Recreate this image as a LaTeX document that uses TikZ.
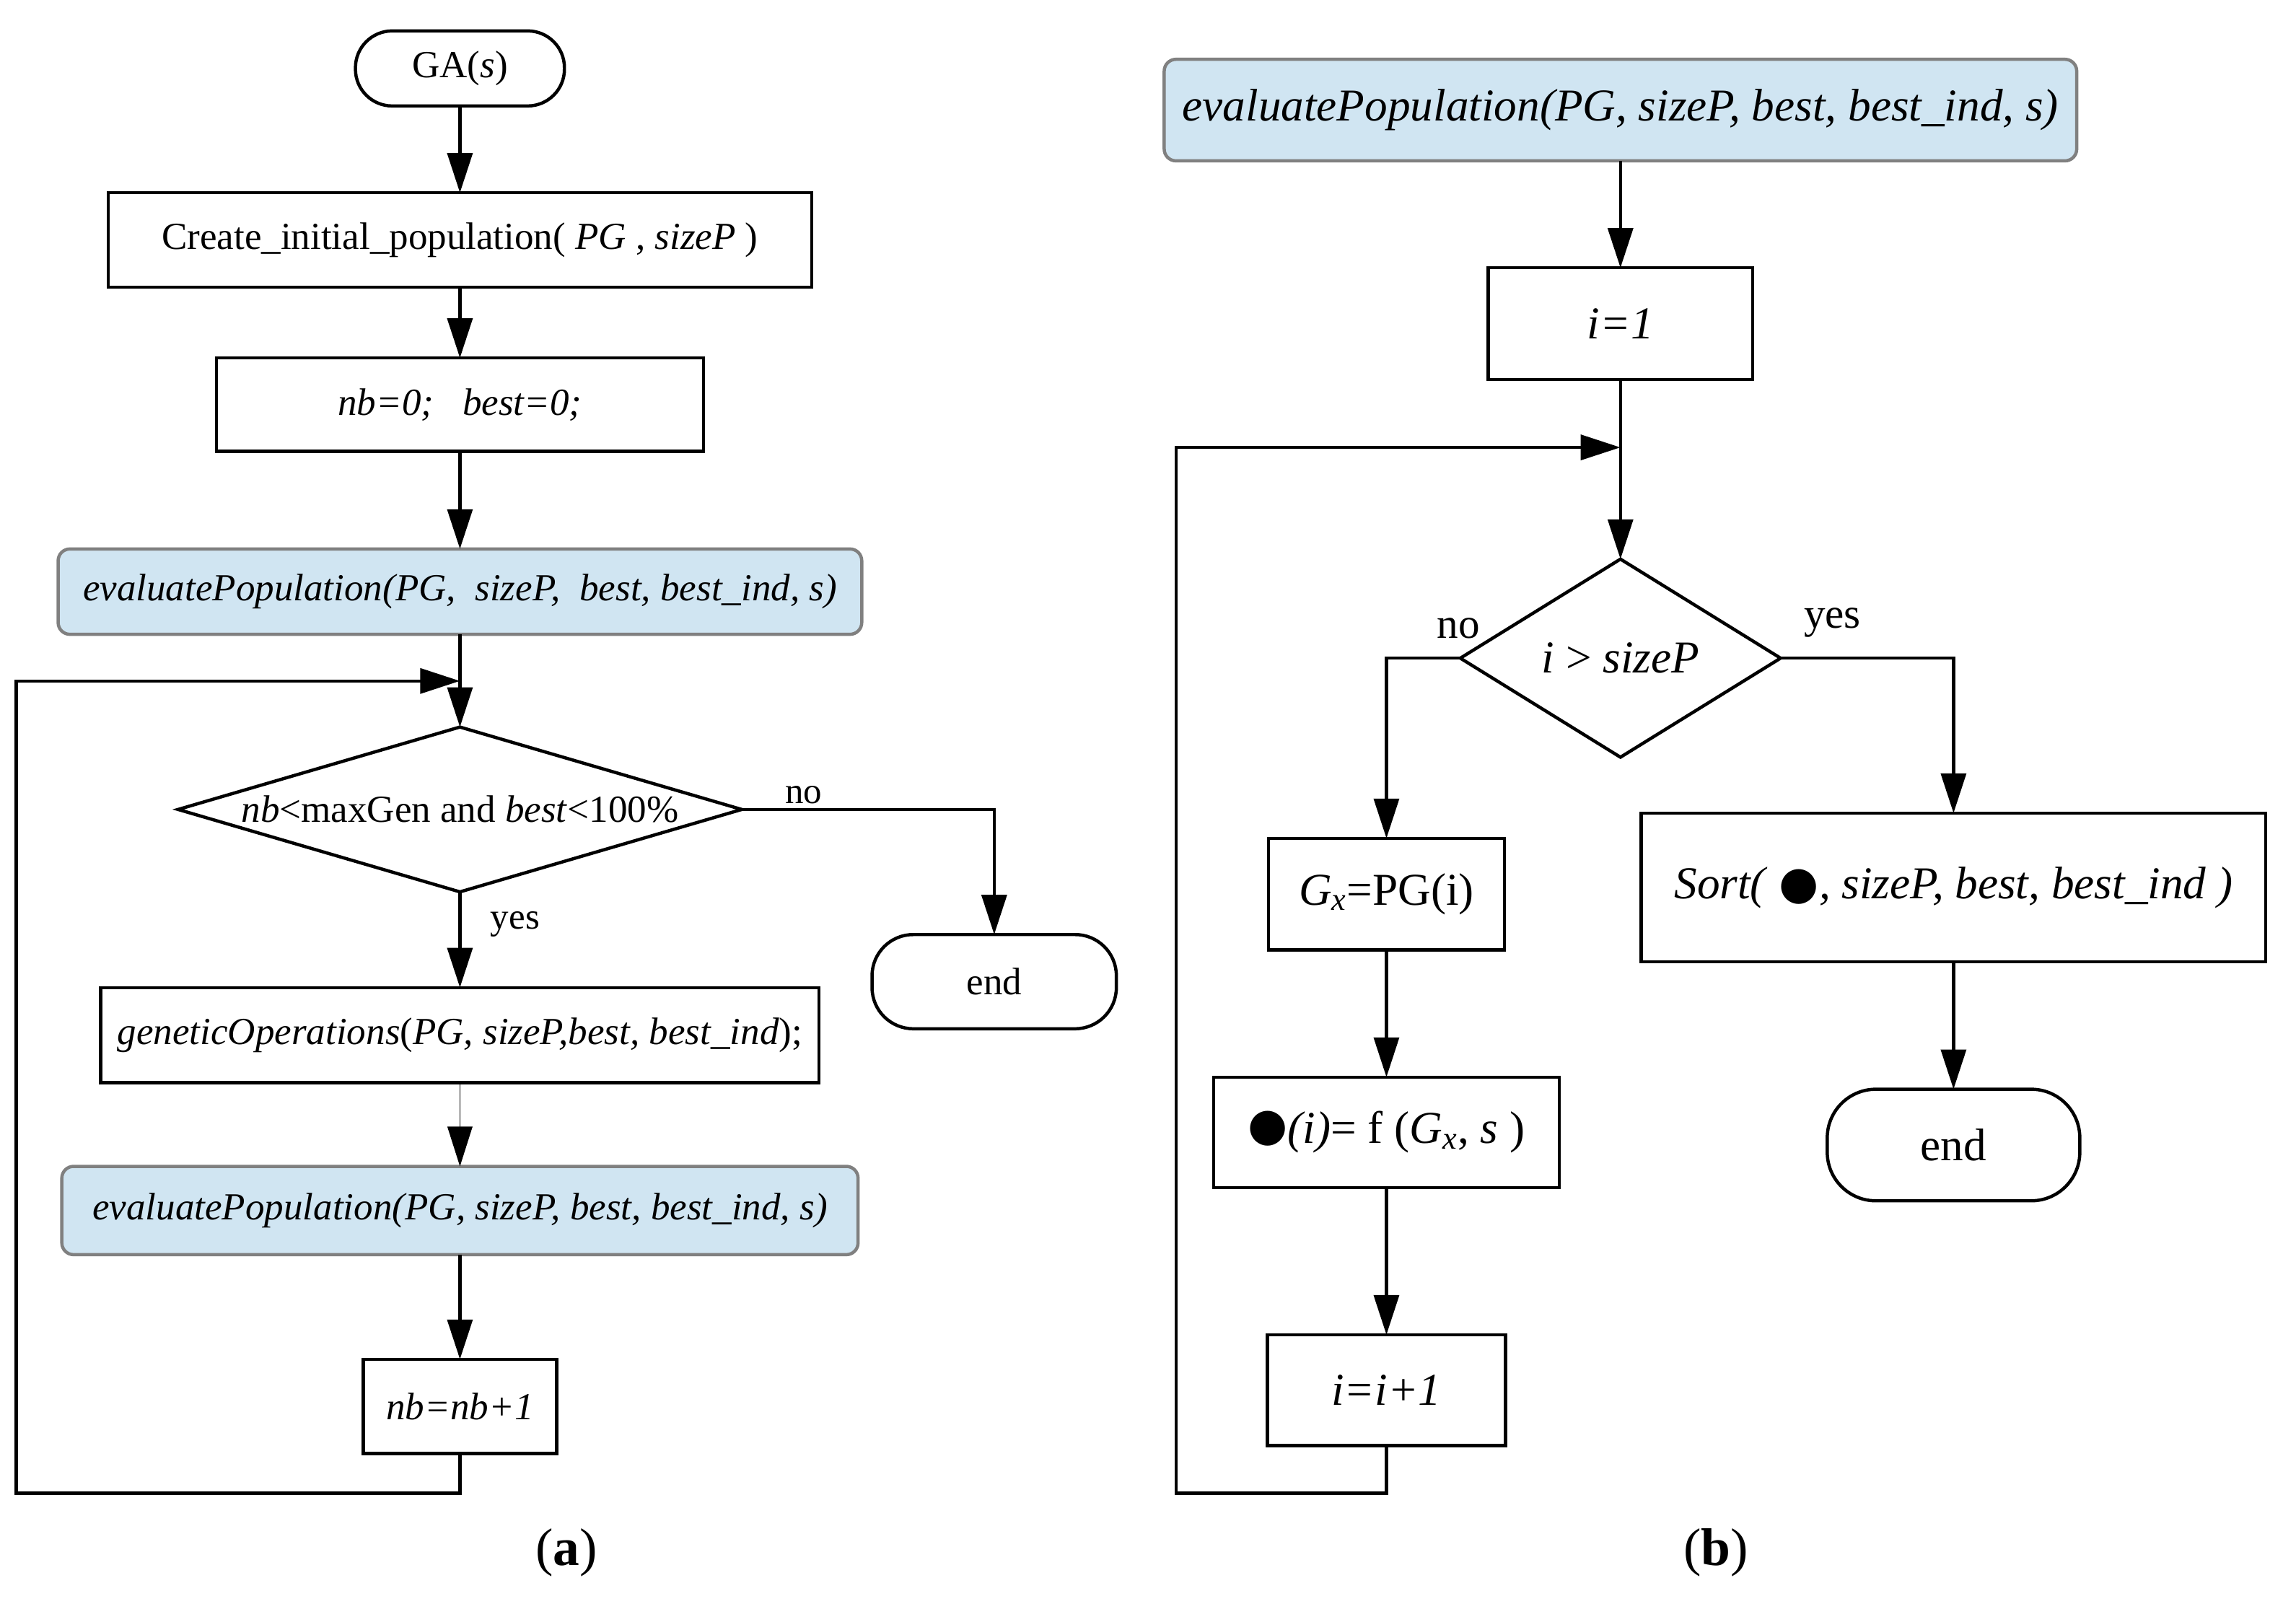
\documentclass[tikz,border=0pt]{standalone}
\usepackage{fontspec}
\setmainfont{Liberation Serif}
\newfontfamily\dejavu{DejaVu Sans}
\usetikzlibrary{arrows.meta,shapes.geometric}
\definecolor{evalblue}{RGB}{208,229,242}
\definecolor{evalgray}{RGB}{128,128,128}
\newcommand{\mydot}{{\dejavu ●}}
\begin{document}
\begin{tikzpicture}[x=1pt,y=-1pt,
  every node/.style={inner sep=0pt, outer sep=0pt},
  procbox/.style={draw=black, line width=2.2pt, rectangle},
  evalbox/.style={draw=evalgray, fill=evalblue, line width=2.2pt, rounded corners=8pt},
  termbox/.style={draw=black, line width=2.2pt, rounded corners=#1},
  decbox/.style={draw=black, diamond, line width=2.2pt, inner sep=0pt},
  arr/.style={line width=2.2pt, -{Triangle[length=27pt,width=17pt]}},
  thinarr/.style={line width=0.6pt, -{Triangle[length=27pt,width=17pt]}},
  ftA/.style={font=\fontsize{26}{30}\selectfont},
  ftB/.style={font=\fontsize{31}{35}\selectfont},
  lblA/.style={font=\fontsize{25}{28}\selectfont},
  lblB/.style={font=\fontsize{29}{32}\selectfont},
  capt/.style={font=\fontsize{36}{40}\selectfont},
]
\useasboundingbox (0,0) rectangle (1560,1102);

% ---------------- (a) ----------------
\node[termbox=25pt, ftA, minimum width=142pt, minimum height=51pt] (ga) at (312.5,46.5) {GA(\textit{s})};
\node[procbox, ftA, minimum width=478pt, minimum height=64pt] (create) at (312.5,163) {Create\_initial\_population( \textit{PG} , \textit{sizeP} )};
\node[procbox, ftA, minimum width=331pt, minimum height=63.5pt] (init) at (312.5,275) {\textit{nb=0;\ \ \ best=0;}};
\node[evalbox, ftA, minimum width=546pt, minimum height=58pt] (eval1) at (312.5,402) {\textit{evaluatePopulation(PG,\ \ sizeP,\ \ best, best\_ind, s)}};
\node[decbox, minimum width=383pt, minimum height=112pt] (dec1) at (312.5,550) {};
\node[ftA] (dec1t) at (dec1.center) {\textit{nb}<maxGen and \textit{best}<100\%};
\node[termbox=28pt, ftA, minimum width=166pt, minimum height=64pt] (end1) at (675.5,667) {end};
\node[procbox, ftA, minimum width=488pt, minimum height=64.5pt] (genop) at (312.5,703.3) {\textit{geneticOperations}(\textit{PG, sizeP,best, best\_ind});};
\node[evalbox, ftA, minimum width=541pt, minimum height=60pt] (eval2) at (312.5,822.5) {\textit{evaluatePopulation(PG, sizeP, best, best\_ind, s)}};
\node[procbox, ftA, minimum width=131.5pt, minimum height=64pt] (nbinc) at (312.5,955.6) {\textit{nb=nb+1}};

\coordinate (aJoin) at (312.5,462.7);
\coordinate (aCorner) at (11,1014.6);

\node[lblA] (noA) at (546,540) {no};
\node[lblA] (yesA) at (350,628) {yes};
\node[capt] (captA) at (385,1055) {(\textbf{a})};

\draw[arr] (ga) -- (create);
\draw[arr] (create) -- (init);
\draw[arr] (init) -- (eval1);
\draw[arr] (eval1) -- (dec1.north);
\draw[arr] (dec1.south) -- (genop);
\draw[arr] (dec1.east) -| (end1.north);
\draw[thinarr] (genop) -- (eval2);
\draw[arr] (eval2) -- (nbinc);
\draw[arr] (nbinc.south) |- (aCorner) |- (aJoin);

% ---------------- (b) ----------------
\node[evalbox, ftB, minimum width=620pt, minimum height=69pt] (eval3) at (1101,74.8) {\textit{evaluatePopulation(PG, sizeP, best, best\_ind, s)}};
\node[procbox, ftB, minimum width=179.5pt, minimum height=76pt] (ione) at (1101,220) {\textit{i=1}};
\node[decbox, ftB, aspect=1.6, minimum width=217.6pt, minimum height=134.6pt] (dec2) at (1101,447.2) {\textit{i} > \textit{sizeP}};
\node[procbox, ftB, minimum width=160.3pt, minimum height=75.7pt] (gx) at (942,607.5) {\textit{G}\textsubscript{\textit{x}}=PG(i)};
\node[procbox, ftB, minimum width=234.9pt, minimum height=75pt] (fi) at (942,769.4) {\raisebox{2pt}{\mydot}\textit{(i)}= f (\textit{G}\textsubscript{\textit{x}}, \textit{s} )};
\node[procbox, ftB, minimum width=161.8pt, minimum height=75.3pt] (iinc) at (942,944.6) {\textit{i=i+1}};
\node[procbox, ftB, minimum width=424.3pt, minimum height=101pt] (sort) at (1327.3,603) {\textit{Sort( }\mydot\textit{, sizeP, best, best\_ind )}};
\node[termbox=33pt, ftB, minimum width=171.6pt, minimum height=75.8pt] (end2) at (1327.3,778) {end};

\coordinate (bJoin) at (1101,304);
\coordinate (bCorner) at (799.1,1014.6);

\node[lblB] (noB) at (991,427) {no};
\node[lblB] (yesB) at (1245,423) {yes};
\node[capt] (captB) at (1166,1055) {(\textbf{b})};

\draw[arr] (eval3) -- (ione);
\draw[arr] (ione) -- (dec2.north);
\draw[arr] (dec2.west) -| (gx.north);
\draw[arr] (dec2.east) -| (sort.north);
\draw[arr] (gx) -- (fi);
\draw[arr] (fi) -- (iinc);
\draw[arr] (sort) -- (end2);
\draw[arr] (iinc.south) |- (bCorner) |- (bJoin);
\end{tikzpicture}
\end{document}
